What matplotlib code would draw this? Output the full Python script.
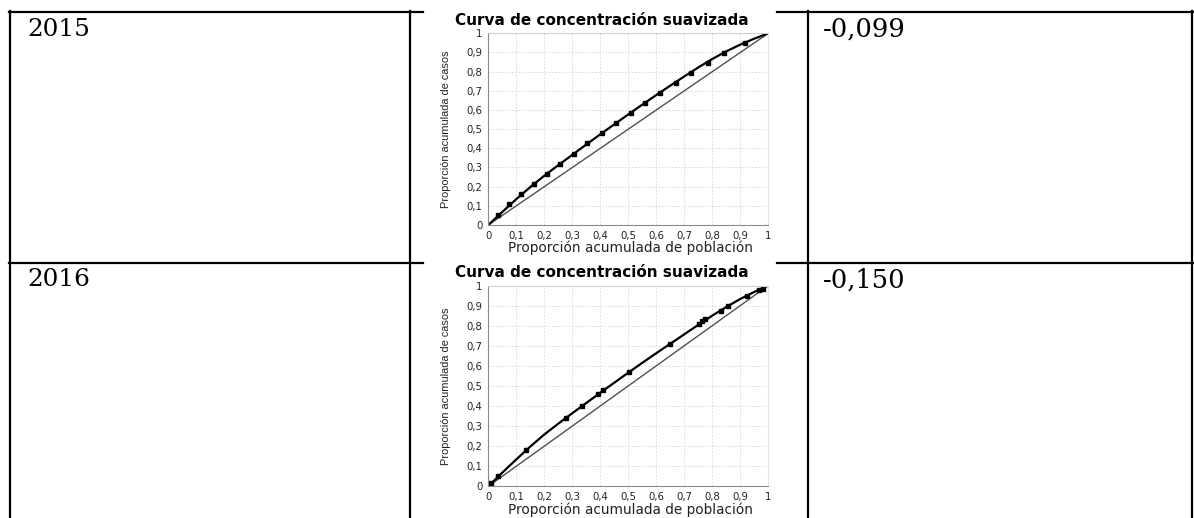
import matplotlib
matplotlib.use('Agg')
import matplotlib.pyplot as plt
from matplotlib.lines import Line2D

# Datos de la tabla
years = ['2015', '2016']
indices = ['-0,099', '-0,150']

# Puntos observados 2015
x_2015 = [0.036, 0.074, 0.115, 0.163, 0.208, 0.256, 0.306, 0.354, 0.405,
          0.456, 0.508, 0.561, 0.613, 0.670, 0.724, 0.783, 0.842, 0.915]
y_2015 = [0.052, 0.108, 0.160, 0.214, 0.266, 0.318, 0.372, 0.426, 0.478,
          0.530, 0.584, 0.637, 0.689, 0.741, 0.793, 0.845, 0.896, 0.950]

# Curva suavizada 2015
curve_x = [0, 0.05, 0.1, 0.15, 0.2, 0.25, 0.3, 0.35, 0.4, 0.45, 0.5,
           0.55, 0.6, 0.65, 0.7, 0.75, 0.8, 0.85, 0.9, 0.95, 1]
curve_2015 = [0, 0.068, 0.135, 0.198, 0.257, 0.312, 0.366, 0.420, 0.473, 0.525, 0.577,
              0.628, 0.678, 0.727, 0.775, 0.822, 0.866, 0.906, 0.941, 0.972, 1]

# Puntos observados 2016
x_2016 = [0.010, 0.036, 0.135, 0.277, 0.333, 0.393, 0.411, 0.502, 0.650,
          0.751, 0.763, 0.775, 0.831, 0.857, 0.924, 0.968, 0.982]
y_2016 = [0.018, 0.052, 0.182, 0.338, 0.400, 0.461, 0.478, 0.569, 0.709,
          0.806, 0.823, 0.831, 0.873, 0.897, 0.946, 0.980, 0.985]

# Curva suavizada 2016
curve_2016 = [0, 0.068, 0.134, 0.198, 0.258, 0.312, 0.364, 0.415, 0.466, 0.516, 0.566,
              0.615, 0.663, 0.710, 0.757, 0.804, 0.850, 0.893, 0.933, 0.968, 1]

ticks = [0, 0.1, 0.2, 0.3, 0.4, 0.5, 0.6, 0.7, 0.8, 0.9, 1]
tick_labels = ['0', '0,1', '0,2', '0,3', '0,4', '0,5', '0,6', '0,7', '0,8', '0,9', '1']

W, H = 1194, 518
fig = plt.figure(figsize=(W / 100, H / 100), dpi=100)


def px(x):
    return x / W


def py(y):
    return 1 - y / H


# Lineas de la tabla
lw = 1.6
for x0, x1 in [(9, 423), (777, W)]:
    for y in [12, 263]:
        fig.add_artist(Line2D([px(x0), px(x1)], [py(y), py(y)], color='black', lw=lw))
for x in [9.5, 410, 808, 1192]:
    fig.add_artist(Line2D([px(x), px(x)], [py(11.3), py(H)], color='black', lw=lw))

serif = ['DejaVu Serif']

paneles = [
    (x_2015, y_2015, curve_2015, 33.3, 225.0),
    (x_2016, y_2016, curve_2016, 285.5, 486.3),
]

for i, (xs, ys, curva, top, bottom) in enumerate(paneles):
    row_top = 12 if i == 0 else 263
    fig.text(px(27), py(row_top + 17), years[i], fontsize=17.8, family=serif,
             ha='left', va='center')
    fig.text(px(823), py(row_top + 17), indices[i], fontsize=18.5, family=serif,
             ha='left', va='center')

    ax = fig.add_axes([px(488.3), py(bottom), px(768.3) - px(488.3), (bottom - top) / H])
    ax.set_xlim(0, 1)
    ax.set_ylim(0, 1)
    ax.set_xticks(ticks)
    ax.set_yticks(ticks)
    ax.set_xticklabels(tick_labels)
    ax.set_yticklabels(tick_labels)
    ax.tick_params(length=0, labelsize=7.3, colors='#222222', pad=4)
    ax.grid(True, color='#d4d4d4', linestyle=(0, (2, 2)), linewidth=0.6)
    ax.set_axisbelow(True)
    for s in ['left', 'bottom']:
        ax.spines[s].set_color('#8a8a8a')
        ax.spines[s].set_linewidth(0.8)
    ax.spines['top'].set_color('#cfcfcf')
    ax.spines['right'].set_color('#e6e6e6')

    ax.plot([0, 1], [0, 1], color='#505050', lw=1.0)
    ax.plot(curve_x, curva, color='black', lw=1.6)
    ax.plot(xs, ys, 's', color='black', markersize=3.4)

    fig.text(px(601.5), py(top - 13), 'Curva de concentración suavizada',
             fontsize=11, fontweight='bold', ha='center', va='center')
    fig.text(px(446), py((top + bottom) / 2), 'Proporción acumulada de casos',
             fontsize=7.9, family=['Liberation Sans', 'DejaVu Sans'], rotation=90,
             ha='center', va='center', color='#222222')
    fig.text(px(630), py(bottom + 23), 'Proporción acumulada de población',
             fontsize=9.8, ha='center', va='center', color='#222222')

fig.savefig('out.png', dpi=100)
